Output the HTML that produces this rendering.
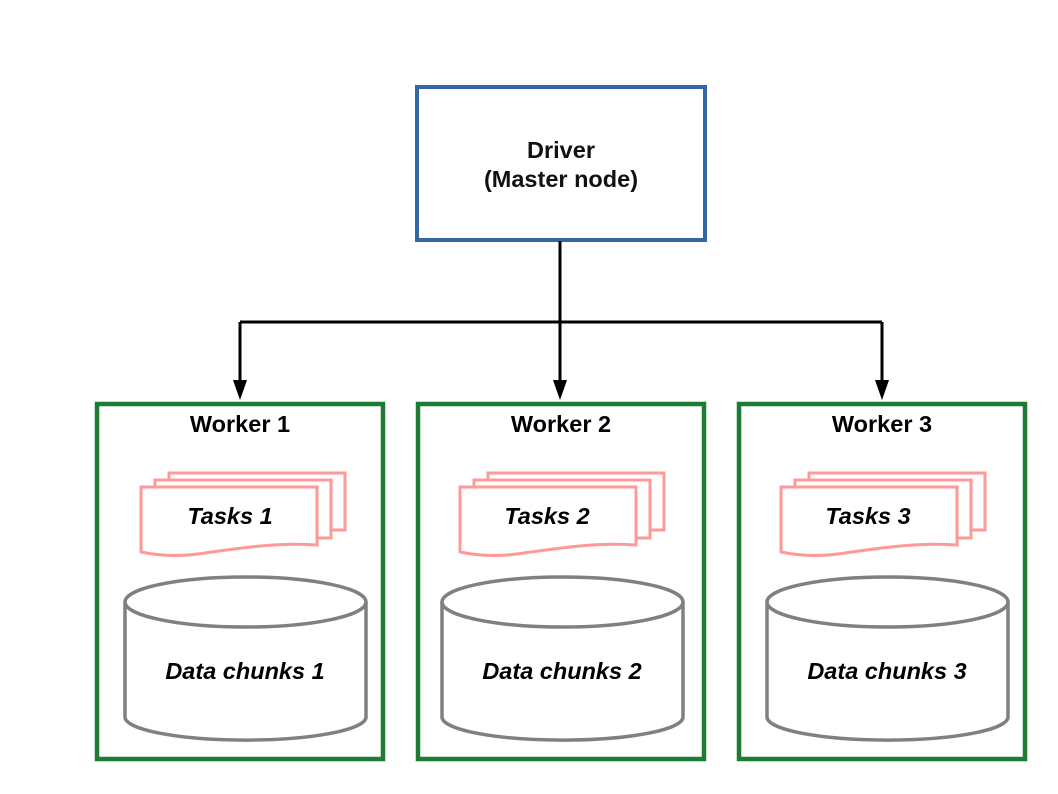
<!DOCTYPE html>
<html><head><style>body{margin:0;background:#fff}svg{display:block}</style></head>
<body>
<svg width="1058" height="794" xmlns="http://www.w3.org/2000/svg" font-family="Liberation Sans, sans-serif" font-weight="bold" font-size="23.5">
<rect x="417" y="87" width="288" height="153" fill="#fff" stroke="#3465a4" stroke-width="4"/>
<text x="561" y="158" text-anchor="middle" fill="#111">Driver</text>
<text x="561" y="187" text-anchor="middle" fill="#111">(Master node)</text>
<g stroke="#000" stroke-width="3" fill="none">
<line x1="560" y1="241" x2="560" y2="385"/>
<line x1="240" y1="322" x2="882" y2="322"/>
<line x1="240" y1="322" x2="240" y2="385"/>
<line x1="882" y1="322" x2="882" y2="385"/>
</g>
<g fill="#000">
<polygon points="233,380 247,380 240,400"/>
<polygon points="553,380 567,380 560,400"/>
<polygon points="875,380 889,380 882,400"/>
</g>
<defs>
<g id="w">
<rect x="97" y="404" width="286" height="355" fill="none" stroke="#1e7b34" stroke-width="4.5"/>
</g>
<g id="t">
<g fill="#fff" stroke="#ff9999" stroke-width="3">
<rect x="169" y="473" width="176" height="57"/>
<rect x="155" y="480" width="176" height="58"/>
<path d="M141,487 H317 V545 C280,542 240,548 205,553 C180,557 160,556 141,552 Z"/>
</g>
</g>
<g id="c">
<g fill="#fff" stroke="#808080" stroke-width="3.5">
<path d="M125,602 V717 A120,23 0 0 0 366,717 V602"/>
<ellipse cx="245.5" cy="602" rx="120.5" ry="25"/>
</g>
</g>
</defs>
<use href="#w"/><use href="#w" x="321"/><use href="#w" x="642"/>
<use href="#t"/><use href="#t" x="319"/><use href="#t" x="640"/>
<use href="#c"/><use href="#c" x="317"/><use href="#c" x="642"/>
<g fill="#000" text-anchor="middle">
<text x="240" y="432">Worker 1</text>
<text x="561" y="432">Worker 2</text>
<text x="882" y="432">Worker 3</text>
<g font-style="italic">
<text x="230" y="524">Tasks 1</text>
<text x="547" y="524">Tasks 2</text>
<text x="868" y="524">Tasks 3</text>
<text x="245" y="679">Data chunks 1</text>
<text x="562" y="679">Data chunks 2</text>
<text x="887" y="679">Data chunks 3</text>
</g>
</g>
</svg>
</body></html>
